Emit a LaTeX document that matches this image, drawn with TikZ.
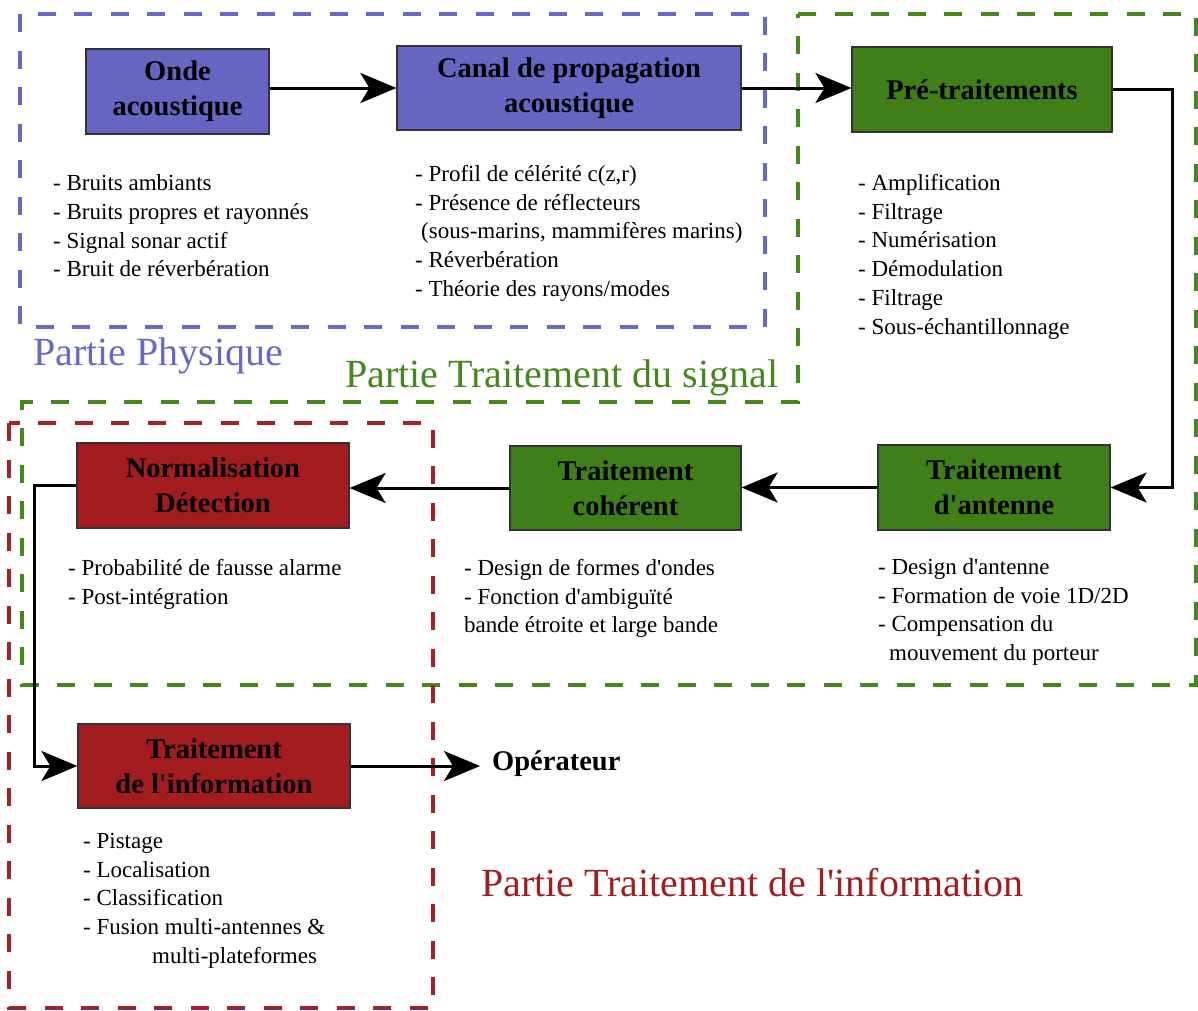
\documentclass[tikz,border=0pt]{standalone}
\usepackage{fontspec}
\setmainfont{Liberation Serif}[Ligatures=TeXOff]
\usetikzlibrary{arrows.meta}
\definecolor{bluefill}{RGB}{102,102,194}
\definecolor{bluedash}{RGB}{104,104,204}
\definecolor{greenfill}{RGB}{64,127,23}
\definecolor{greendash}{RGB}{66,136,26}
\definecolor{redfill}{RGB}{163,29,32}
\definecolor{reddash}{RGB}{166,32,37}
\tikzset{
  blk/.style={draw=black!80, line width=1.2pt, inner sep=0pt, align=center,
    font=\fontsize{28.5}{35}\selectfont\bfseries},
  lst/.style={font=\fontsize{23}{28.7}\selectfont, align=left, anchor=base west, inner sep=0pt},
  zone/.style={line width=4pt, dash pattern=on 18pt off 18.5pt},
  ztitle/.style={font=\fontsize{40}{48}\selectfont, anchor=base west, inner sep=0pt},
  conn/.style={line width=3pt, line join=miter, -{Stealth[length=36pt,width=30pt,inset=9pt]}}
}
\begin{document}
\begin{tikzpicture}[x=1pt,y=-1pt]
\useasboundingbox (0,0) rectangle (1198,1010);
% zones
\draw[zone, draw=bluedash] (20,14) rectangle (765,327);
\draw[zone, draw=greendash] (798,14) -- (1196,14) -- (1196,685) -- (22,685) -- (22,402) -- (798,402) -- cycle;
\draw[zone, draw=reddash] (9,423) rectangle (433,1008);
% zone titles
\node[ztitle, text=bluedash] (tphys) at (33,365) {Partie Physique};
\node[ztitle, text=greendash] (tsig) at (345,387) {Partie Traitement du signal};
\node[ztitle, text=redfill] (tinfo) at (481,896) {Partie Traitement de l'information};
% blocks
\node[blk, fill=bluefill, minimum width=183pt, minimum height=85pt] (onde) at (177.5,91.5) {Onde\\acoustique};
\node[blk, fill=bluefill, minimum width=344pt, minimum height=84pt] (canal) at (569,88) {Canal de propagation\\acoustique};
\node[blk, fill=greenfill, minimum width=260pt, minimum height=85pt] (pre) at (982,89.5) {Pré-traitements};
\node[blk, fill=greenfill, minimum width=232pt, minimum height=85pt] (antenne) at (994,487.5) {Traitement\\d'antenne};
\node[blk, fill=greenfill, minimum width=231pt, minimum height=84pt] (coherent) at (625.5,488) {Traitement\\cohérent};
\node[blk, fill=redfill, minimum width=272pt, minimum height=85pt] (norm) at (213,485.5) {Normalisation\\Détection};
\node[blk, fill=redfill, minimum width=272pt, minimum height=84pt] (info) at (214,766) {Traitement\\de l'information};
\node[font=\fontsize{28.5}{35}\selectfont\bfseries, anchor=west, inner xsep=12pt, inner ysep=0pt] (oper) at (480,764) {Opérateur};
% lists (anchor = baseline of last line)
\node[lst] (l1) at (53,276.8) {- Bruits ambiants\\- Bruits propres et rayonnés\\- Signal sonar actif\\- Bruit de réverbération};
\node[lst] (l2) at (415,296.3) {- Profil de célérité c(z,r)\\- Présence de réflecteurs\\\hspace*{6pt}(sous-marins, mammifères marins)\\- Réverbération\\- Théorie des rayons/modes};
\node[lst] (l3) at (858,334) {- Amplification\\- Filtrage\\- Numérisation\\- Démodulation\\- Filtrage\\- Sous-échantillonnage};
\node[lst] (l4) at (68,604.2) {- Probabilité de fausse alarme\\- Post-intégration};
\node[lst] (l5) at (464,632.9) {- Design de formes d'ondes\\- Fonction d'ambiguïté\\bande étroite et large bande};
\node[lst] (l6) at (878,660.6) {- Design d'antenne\\- Formation de voie 1D/2D\\- Compensation du\\\hspace*{11pt}mouvement du porteur};
\node[lst] (l7) at (83,963.3) {- Pistage\\- Localisation\\- Classification\\- Fusion multi-antennes \&\\\hspace*{69pt}multi-plateformes};
% connectors
\draw[conn] (onde.east |- canal.west) -- (canal.west);
\draw[conn] (canal.east) -- (canal.east -| pre.west);
\draw[conn] (pre.east) -- ++(60,0) |- (antenne.east);
\draw[conn] (antenne.west) -- (antenne.west -| coherent.east);
\draw[conn] (coherent.west) -- (coherent.west -| norm.east);
\draw[conn] (norm.west) -- ++(-42,0) |- (info.west);
\draw[conn] (info.east) -- (info.east -| oper.west);
\end{tikzpicture}
\end{document}
